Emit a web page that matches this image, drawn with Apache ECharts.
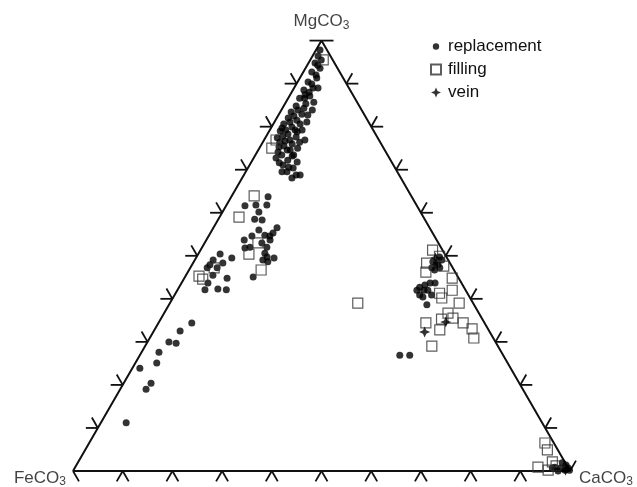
<!DOCTYPE html>
<html>
<head>
<meta charset="utf-8">
<script src="https://cdn.jsdelivr.net/npm/echarts@6/dist/echarts.min.js"></script>
<style>
  html, body { margin: 0; padding: 0; background: #fff; }
  #chart { width: 637px; height: 487px; }
</style>
</head>
<body>
<div id="chart"></div>
<script>
// compositions in mol %, [MgCO3, CaCO3]; FeCO3 is the remainder (100 - Mg - Ca)
var replacement = [
  [97.8, 0.8], [96.4, 1.1], [94.8, 1.3], [93.6, 2.9], [92.7, 1.7], [91.3, 3.4], [90.4, 2.1],
  [89.0, 3.8], [88.5, 2.2], [87.1, 4.1], [86.6, 2.3], [85.3, 4.2], [84.8, 2.5], [83.9, 6.2],
  [83.4, 2.2], [82.9, 4.6], [82.0, 2.3], [81.5, 4.3], [81.1, 6.5], [80.6, 2.1], [79.9, 4.1],
  [79.2, 6.5], [79.0, 2.2], [78.3, 4.1], [77.6, 6.1], [77.4, 2.4], [76.7, 4.3], [76.0, 6.1],
  [75.3, 3.8], [74.6, 5.8], [73.4, 5.3], [73.4, 7.7], [72.7, 4.5], [72.2, 7.1], [71.1, 6.7],
  [70.4, 9.1], [69.5, 8.3], [68.1, 10.0], [75.0, 7.7], [76.9, 8.2], [82.7, 5.9], [85.7, 5.6],
  [89.0, 4.8], [80.6, 5.4], [79.7, 2.2], [74.6, 6.4], [79.2, 5.1], [84.3, 4.3], [74.1, 4.2],
  [71.8, 9.2], [69.5, 7.3], [68.8, 11.3], [92.0, 2.9], [88.0, 3.5], [86.6, 3.3], [83.9, 3.3],
  [82.5, 3.2], [81.1, 3.1], [79.2, 3.2], [77.8, 3.3], [78.8, 5.7], [76.9, 5.2], [75.5, 4.7],
  [76.4, 3.4], [73.2, 7.5], [71.6, 5.7], [70.6, 8.1], [68.8, 10.5], [87.4, 3.0], [89.9, 3.1],
  [95.5, 2.2], [94.3, 2.1], [76.4, 7.4],
  [63.7, 7.4], [61.8, 8.1], [61.6, 3.8], [61.8, 5.9], [60.2, 7.3], [58.5, 7.3], [58.3, 8.9],
  [56.0, 9.4], [53.7, 7.6], [51.8, 8.7], [52.0, 9.6], [56.5, 12.8], [55.3, 12.6], [53.7, 12.8],
  [52.0, 13.0], [50.6, 13.3], [49.0, 13.7], [49.7, 14.2], [49.5, 15.7], [45.1, 13.7], [50.4, 4.4],
  [49.5, 7.2], [49.0, 3.7], [47.9, 3.6], [47.2, 5.4], [47.2, 3.4], [45.5, 5.4], [43.7, 5.3],
  [44.8, 8.6], [48.3, 6.0], [42.3, 8.0], [42.1, 9.8], [42.1, 5.5], [54.8, 11.2], [53.0, 11.5],
  [54.6, 8.7], [54.6, 12.3], [48.6, 14.9],
  [34.4, 6.7], [32.5, 5.3], [30.0, 4.3], [29.7, 5.9], [27.6, 3.5], [25.1, 4.3], [23.9, 1.5],
  [20.4, 5.5], [19.0, 5.2], [11.2, 5.1],
  [49.7, 48.9], [48.3, 49.0], [47.2, 50.2], [46.7, 49.4], [42.7, 48.4], [43.2, 49.2], [42.0, 48.2],
  [40.4, 50.2], [38.6, 51.9], [40.9, 51.7], [43.7, 51.0], [43.7, 50.0], [40.9, 49.3], [48.6, 48.1],
  [42.0, 50.4], [47.9, 49.5], [49.0, 49.7], [47.2, 48.6], [42.0, 49.6], [26.9, 52.3], [26.9, 54.3],
  [0.7, 97.7], [0.2, 98.9], [0.7, 99.3], [0.9, 96.5], [1.9, 97.5], [0.0, 97.6], [1.4, 98.5],
  [0.7, 96.1], [0.2, 99.8]
];
var filling = [
  [95.5, 2.6], [75.0, 2.5], [76.9, 2.4],
  [63.9, 4.5], [59.0, 3.9], [53.0, 10.7], [50.4, 10.2], [46.7, 14.5], [45.3, 2.7], [44.6, 3.8],
  [47.2, 4.8],
  [51.3, 46.7], [48.3, 47.0], [46.2, 47.9], [44.8, 53.9], [42.0, 55.3], [41.3, 53.1], [40.2, 54.1],
  [39.0, 58.2], [34.4, 53.8], [35.3, 56.5], [36.7, 57.1], [35.5, 58.7], [32.8, 57.4], [34.4, 61.3],
  [33.0, 63.8], [30.9, 65.2], [29.0, 57.7], [39.0, 37.8], [49.9, 48.8], [47.6, 50.8],
  [6.5, 91.7], [4.9, 93.0], [0.9, 93.1], [2.1, 95.4], [0.2, 95.5], [1.2, 96.6]
];
var vein = [
  [32.3, 54.6], [34.6, 57.7], [49.5, 48.2], [0.2, 99.0]
];
var tickValues = [10, 20, 30, 40, 50, 60, 70, 80, 90];
var seriesNames = ['replacement', 'filling', 'vein'];

var SQ3 = Math.sqrt(3) / 2;
function toXY(c) {
  return [c[1] + c[0] / 2, c[0] * SQ3];
}

// tick marks: [x, y, arm set]
var ticks = [];
tickValues.forEach(function (t) {
  ticks.push(toXY([0, t]).concat(0));        // base FeCO3 - CaCO3
  ticks.push(toXY([t, 0]).concat(1));        // left FeCO3 - MgCO3
  ticks.push(toXY([100 - t, t]).concat(2));  // right MgCO3 - CaCO3
});
ticks.push(toXY([0, 0]).concat(3));
ticks.push(toXY([100, 0]).concat(4));
ticks.push(toXY([0, 100]).concat(5));

var DL = [-0.5, 0.866], DR = [0.5, 0.866], LH = [-1, 0], UL = [-0.5, -0.866], RH = [1, 0], UR = [0.5, -0.866];
var armSets = [[DL, DR], [LH, UL], [RH, UR], [DR], [LH, RH], [UR]];
var ARM = 12;

var starPath = 'path://M0,-10L3,-3L10,0L3,3L0,10L-3,3L-10,0L-3,-3Z';
var dotIcon = 'path://M-5,-5M5,5M0,-3.2A3.2,3.2,0,1,1,0,3.2A3.2,3.2,0,1,1,0,-3.2Z';

var chart = echarts.init(document.getElementById('chart'));
var font = 'Liberation Sans, Arial, sans-serif';

var option = {
  animation: false,
  backgroundColor: '#fff',
  textStyle: { fontFamily: font },
  grid: { left: 73, right: 67, top: 40.6, bottom: 16, containLabel: false },
  xAxis: { type: 'value', min: 0, max: 100, show: false },
  yAxis: { type: 'value', min: 0, max: 100 * SQ3, show: false },
  legend: {
    orient: 'vertical',
    left: 425,
    top: 33,
    itemWidth: 10,
    itemHeight: 10,
    itemGap: 6,
    textStyle: { fontSize: 17, color: '#111', lineHeight: 17, padding: [0, 0, 0, 2], fontFamily: font },
    data: [
      { name: 'replacement', icon: dotIcon },
      { name: 'filling', icon: 'rect' },
      { name: 'vein', icon: starPath }
    ]
  },
  series: [
    {
      type: 'line',
      data: [toXY([0, 0]), toXY([0, 100]), toXY([100, 0]), toXY([0, 0])],
      symbol: 'none',
      lineStyle: { color: '#111', width: 2 },
      silent: true,
      z: 1
    },
    {
      type: 'custom',
      data: ticks,
      silent: true,
      z: 1,
      renderItem: function (params, api) {
        var p = api.coord([api.value(0), api.value(1)]);
        var arms = armSets[api.value(2)];
        return {
          type: 'group',
          children: arms.map(function (a) {
            return {
              type: 'line',
              shape: { x1: p[0], y1: p[1], x2: p[0] + a[0] * ARM, y2: p[1] + a[1] * ARM },
              style: { stroke: '#111', lineWidth: 1.8 }
            };
          })
        };
      }
    },
    {
      type: 'scatter',
      data: [
        { value: toXY([100, 0]), label: { position: 'top', distance: 9 } },
        { value: toXY([0, 0]), label: { position: 'left', distance: 7, offset: [0, 7] } },
        { value: toXY([0, 100]), label: { position: 'right', distance: 9, offset: [0, 7] } }
      ],
      symbolSize: 0,
      silent: true,
      label: {
        show: true,
        formatter: function (p) {
          return ['{a|MgCO}{b|3}', '{a|FeCO}{b|3}', '{a|CaCO}{b|3}'][p.dataIndex];
        },
        rich: {
          a: { fontSize: 17, color: '#111', fontFamily: font },
          b: { fontSize: 12, color: '#111', fontFamily: font, padding: [8, 0, 0, 0] }
        }
      }
    },
    {
      name: seriesNames[0],
      type: 'scatter',
      data: replacement.map(toXY),
      symbol: 'circle',
      symbolSize: 7,
      clip: false,
      itemStyle: { color: '#000' },
      z: 3
    },
    {
      name: seriesNames[1],
      type: 'scatter',
      data: filling.map(toXY),
      symbol: 'rect',
      symbolSize: 10,
      clip: false,
      itemStyle: { color: 'transparent', borderColor: '#333', borderWidth: 1.2 },
      z: 4
    },
    {
      name: seriesNames[2],
      type: 'scatter',
      data: vein.map(toXY),
      symbol: starPath,
      symbolSize: 11,
      clip: false,
      itemStyle: { color: '#000' },
      z: 5
    }
  ]
};
chart.setOption(option);
</script>
</body>
</html>
